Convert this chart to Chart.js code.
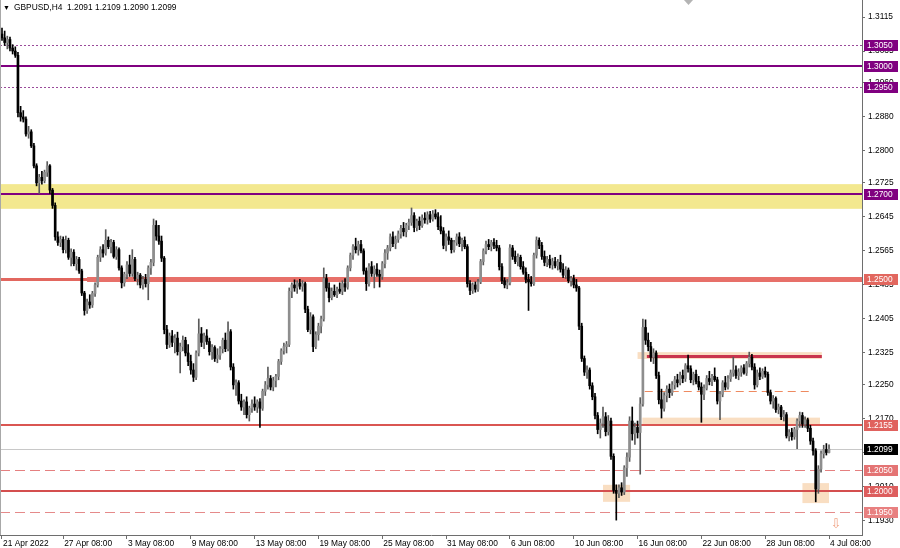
<!DOCTYPE html>
<html><head><meta charset="utf-8">
<script src="https://cdn.jsdelivr.net/npm/chart.js@4.4.1/dist/chart.umd.min.js"></script>
<style>html,body{margin:0;padding:0;background:#fff;}canvas{display:block;}</style>
</head><body>
<canvas id="c" width="900" height="548"></canvas>
<script>
const symbolTitle = 'GBPUSD,H4';
const open = [
1.3075,1.3066,1.3055,1.3062,1.3042,1.3035,1.3025,1.2890,1.2880,1.2875,
1.2840,1.2845,1.2812,1.2765,1.2725,1.2738,1.2730,1.2750,1.2765,1.2708,
1.2672,1.2598,1.2585,1.2592,1.2568,1.2590,1.2550,1.2562,1.2535,1.2545,
1.2518,1.2466,1.2425,1.2445,1.2438,1.2465,1.2485,1.2550,1.2568,1.2560,
1.2590,1.2575,1.2585,1.2552,1.2568,1.2525,1.2490,1.2510,1.2532,1.2512,
1.2545,1.2500,1.2508,1.2485,1.2498,1.2488,1.2525,1.2538,1.2625,1.2600,
1.2588,1.2548,1.2380,1.2345,1.2365,1.2350,1.2360,1.2328,1.2340,1.2355,
1.2325,1.2305,1.2285,1.2268,1.2325,1.2370,1.2350,1.2365,1.2352,1.2328,
1.2338,1.2312,1.2320,1.2335,1.2355,1.2335,1.2375,1.2292,1.2250,1.2255,
1.2212,1.2198,1.2210,1.2180,1.2195,1.2205,1.2198,1.2210,1.2195,1.2235,
1.2250,1.2265,1.2245,1.2260,1.2270,1.2305,1.2330,1.2340,1.2345,1.2470,
1.2485,1.2478,1.2490,1.2482,1.2488,1.2428,1.2380,1.2410,1.2340,1.2368,
1.2388,1.2405,1.2500,1.2478,1.2455,1.2470,1.2462,1.2475,1.2470,1.2488,
1.2480,1.2525,1.2555,1.2575,1.2568,1.2580,1.2565,1.2518,1.2488,1.2528,
1.2512,1.2522,1.2510,1.2505,1.2535,1.2560,1.2572,1.2598,1.2582,1.2592,
1.2605,1.2618,1.2610,1.2625,1.2632,1.2648,1.2620,1.2635,1.2625,1.2642,
1.2638,1.2650,1.2640,1.2652,1.2645,1.2622,1.2612,1.2578,1.2598,1.2590,
1.2568,1.2585,1.2598,1.2582,1.2590,1.2575,1.2488,1.2472,1.2485,1.2475,
1.2492,1.2540,1.2565,1.2580,1.2575,1.2585,1.2578,1.2572,1.2528,1.2495,
1.2485,1.2490,1.2572,1.2552,1.2540,1.2550,1.2528,1.2515,1.2498,1.2492,
1.2488,1.2555,1.2590,1.2578,1.2552,1.2538,1.2545,1.2532,1.2540,1.2530,
1.2538,1.2522,1.2508,1.2520,1.2495,1.2500,1.2485,1.2478,1.2388,1.2312,
1.2280,1.2285,1.2248,1.2222,1.2178,1.2145,1.2160,1.2175,1.2140,1.2165,
1.2082,1.2002,1.1995,1.2008,1.1998,1.2055,1.2080,1.2165,1.2135,1.2150,
1.2138,1.2205,1.2385,1.2355,1.2340,1.2315,1.2325,1.2272,1.2215,1.2195,
1.2225,1.2240,1.2232,1.2250,1.2262,1.2255,1.2272,1.2265,1.2295,1.2288,
1.2262,1.2275,1.2258,1.2245,1.2228,1.2242,1.2265,1.2258,1.2270,1.2262,
1.2212,1.2228,1.2255,1.2245,1.2265,1.2278,1.2285,1.2272,1.2280,1.2290,
1.2278,1.2300,1.2315,1.2292,1.2250,1.2278,1.2270,1.2282,1.2275,1.2232,
1.2212,1.2218,1.2192,1.2198,1.2175,1.2180,1.2130,1.2138,1.2128,1.2145,
1.2165,1.2178,1.2158,1.2168,1.2148,1.2118,1.2095,1.2005,1.2052,1.2088,
1.2098,1.2091];
const high = [
1.3089,1.3082,1.3070,1.3068,1.3050,1.3045,1.3032,1.2905,1.2895,1.2880,
1.2858,1.2850,1.2818,1.2770,1.2745,1.2752,1.2755,1.2775,1.2768,1.2712,
1.2678,1.2610,1.2600,1.2598,1.2600,1.2595,1.2570,1.2568,1.2552,1.2550,
1.2522,1.2470,1.2452,1.2462,1.2470,1.2490,1.2555,1.2575,1.2580,1.2615,
1.2598,1.2592,1.2590,1.2575,1.2572,1.2530,1.2515,1.2540,1.2555,1.2568,
1.2550,1.2515,1.2512,1.2505,1.2510,1.2530,1.2545,1.2640,1.2636,1.2625,
1.2600,1.2552,1.2390,1.2372,1.2378,1.2368,1.2374,1.2348,1.2365,1.2362,
1.2345,1.2320,1.2300,1.2330,1.2405,1.2385,1.2372,1.2380,1.2360,1.2345,
1.2342,1.2335,1.2340,1.2360,1.2372,1.2398,1.2380,1.2300,1.2262,1.2260,
1.2228,1.2215,1.2222,1.2200,1.2215,1.2222,1.2215,1.2218,1.2240,1.2258,
1.2292,1.2272,1.2268,1.2275,1.2310,1.2335,1.2348,1.2352,1.2478,1.2490,
1.2497,1.2495,1.2498,1.2495,1.2492,1.2435,1.2420,1.2415,1.2375,1.2395,
1.2412,1.2525,1.2510,1.2490,1.2478,1.2485,1.2480,1.2490,1.2495,1.2500,
1.2530,1.2560,1.2580,1.2595,1.2588,1.2590,1.2570,1.2525,1.2535,1.2540,
1.2530,1.2535,1.2520,1.2540,1.2568,1.2578,1.2605,1.2610,1.2600,1.2612,
1.2625,1.2632,1.2630,1.2640,1.2666,1.2655,1.2640,1.2645,1.2650,1.2655,
1.2657,1.2658,1.2660,1.2662,1.2655,1.2648,1.2620,1.2605,1.2612,1.2595,
1.2590,1.2605,1.2608,1.2595,1.2598,1.2580,1.2495,1.2490,1.2492,1.2498,
1.2545,1.2570,1.2588,1.2592,1.2590,1.2594,1.2590,1.2578,1.2535,1.2502,
1.2498,1.2580,1.2578,1.2565,1.2558,1.2555,1.2540,1.2525,1.2510,1.2505,
1.2560,1.2598,1.2596,1.2585,1.2565,1.2552,1.2555,1.2548,1.2550,1.2545,
1.2555,1.2535,1.2528,1.2525,1.2505,1.2508,1.2498,1.2482,1.2395,1.2318,
1.2295,1.2290,1.2255,1.2230,1.2185,1.2170,1.2198,1.2185,1.2178,1.2172,
1.2088,1.2015,1.2015,1.2020,1.2060,1.2090,1.2175,1.2198,1.2160,1.2165,
1.2220,1.2405,1.2403,1.2372,1.2350,1.2335,1.2330,1.2280,1.2240,1.2232,
1.2248,1.2252,1.2258,1.2270,1.2275,1.2280,1.2285,1.2300,1.2320,1.2295,
1.2280,1.2285,1.2270,1.2255,1.2250,1.2272,1.2282,1.2275,1.2290,1.2268,
1.2235,1.2260,1.2270,1.2272,1.2285,1.2315,1.2295,1.2288,1.2295,1.2298,
1.2305,1.2327,1.2322,1.2300,1.2285,1.2290,1.2288,1.2292,1.2280,1.2238,
1.2225,1.2222,1.2205,1.2202,1.2190,1.2185,1.2145,1.2148,1.2150,1.2170,
1.2186,1.2185,1.2175,1.2172,1.2155,1.2125,1.2100,1.2060,1.2095,1.2108,
1.2112,1.2109];
const low = [
1.3060,1.3048,1.3040,1.3035,1.3028,1.3020,1.2880,1.2870,1.2868,1.2835,
1.2830,1.2808,1.2760,1.2718,1.2700,1.2722,1.2725,1.2740,1.2700,1.2665,
1.2590,1.2578,1.2575,1.2560,1.2560,1.2545,1.2530,1.2530,1.2520,1.2512,
1.2460,1.2414,1.2418,1.2430,1.2432,1.2458,1.2480,1.2540,1.2550,1.2555,
1.2570,1.2560,1.2548,1.2545,1.2520,1.2478,1.2482,1.2500,1.2505,1.2505,
1.2495,1.2485,1.2478,1.2475,1.2480,1.2450,1.2510,1.2530,1.2590,1.2580,
1.2540,1.2370,1.2335,1.2338,1.2340,1.2325,1.2320,1.2278,1.2330,1.2318,
1.2295,1.2275,1.2258,1.2262,1.2318,1.2340,1.2335,1.2345,1.2320,1.2310,
1.2305,1.2302,1.2310,1.2325,1.2328,1.2330,1.2285,1.2240,1.2225,1.2205,
1.2190,1.2180,1.2172,1.2165,1.2185,1.2190,1.2185,1.2150,1.2190,1.2225,
1.2240,1.2238,1.2236,1.2245,1.2262,1.2298,1.2322,1.2325,1.2340,1.2455,
1.2470,1.2465,1.2475,1.2470,1.2420,1.2375,1.2370,1.2328,1.2335,1.2355,
1.2372,1.2400,1.2470,1.2445,1.2450,1.2458,1.2455,1.2465,1.2462,1.2470,
1.2475,1.2518,1.2545,1.2560,1.2555,1.2560,1.2510,1.2472,1.2482,1.2505,
1.2478,1.2505,1.2480,1.2498,1.2525,1.2545,1.2565,1.2575,1.2570,1.2585,
1.2595,1.2600,1.2598,1.2615,1.2625,1.2610,1.2612,1.2615,1.2620,1.2630,
1.2628,1.2632,1.2635,1.2640,1.2615,1.2605,1.2570,1.2565,1.2580,1.2560,
1.2562,1.2578,1.2575,1.2565,1.2570,1.2480,1.2462,1.2465,1.2468,1.2470,
1.2488,1.2532,1.2558,1.2568,1.2565,1.2570,1.2565,1.2520,1.2488,1.2478,
1.2476,1.2485,1.2545,1.2535,1.2530,1.2522,1.2510,1.2490,1.2425,1.2482,
1.2484,1.2548,1.2570,1.2545,1.2530,1.2528,1.2525,1.2522,1.2525,1.2520,
1.2515,1.2502,1.2500,1.2490,1.2482,1.2478,1.2470,1.2380,1.2305,1.2272,
1.2265,1.2240,1.2215,1.2170,1.2135,1.2125,1.2150,1.2130,1.2132,1.2075,
1.1995,1.1932,1.1985,1.1990,1.1992,1.2035,1.2070,1.2120,1.2110,1.2125,
1.2040,1.2200,1.2345,1.2330,1.2305,1.2300,1.2265,1.2205,1.2172,1.2188,
1.2210,1.2220,1.2225,1.2240,1.2245,1.2250,1.2255,1.2258,1.2280,1.2255,
1.2250,1.2252,1.2238,1.2162,1.2215,1.2238,1.2250,1.2248,1.2258,1.2205,
1.2168,1.2222,1.2238,1.2240,1.2258,1.2270,1.2265,1.2262,1.2270,1.2275,
1.2272,1.2292,1.2285,1.2240,1.2245,1.2262,1.2265,1.2268,1.2225,1.2205,
1.2195,1.2185,1.2182,1.2168,1.2165,1.2125,1.2118,1.2120,1.2122,1.2100,
1.2150,1.2150,1.2150,1.2140,1.2110,1.2085,1.1975,1.1995,1.2045,1.2078,
1.2085,1.2090];
const close = [
1.3066,1.3055,1.3062,1.3042,1.3035,1.3025,1.2890,1.2880,1.2875,1.2840,
1.2845,1.2812,1.2765,1.2725,1.2738,1.2730,1.2750,1.2765,1.2708,1.2672,
1.2598,1.2585,1.2592,1.2568,1.2590,1.2550,1.2562,1.2535,1.2545,1.2518,
1.2466,1.2425,1.2445,1.2438,1.2465,1.2485,1.2550,1.2568,1.2560,1.2590,
1.2575,1.2585,1.2552,1.2568,1.2525,1.2490,1.2510,1.2532,1.2512,1.2545,
1.2500,1.2508,1.2485,1.2498,1.2488,1.2525,1.2538,1.2625,1.2600,1.2588,
1.2548,1.2380,1.2345,1.2365,1.2350,1.2360,1.2328,1.2340,1.2355,1.2325,
1.2305,1.2285,1.2268,1.2325,1.2370,1.2350,1.2365,1.2352,1.2328,1.2338,
1.2312,1.2320,1.2335,1.2355,1.2335,1.2375,1.2292,1.2250,1.2255,1.2212,
1.2198,1.2210,1.2180,1.2195,1.2205,1.2198,1.2210,1.2195,1.2235,1.2250,
1.2265,1.2245,1.2260,1.2270,1.2305,1.2330,1.2340,1.2345,1.2470,1.2485,
1.2478,1.2490,1.2482,1.2488,1.2428,1.2380,1.2410,1.2340,1.2368,1.2388,
1.2405,1.2500,1.2478,1.2455,1.2470,1.2462,1.2475,1.2470,1.2488,1.2480,
1.2525,1.2555,1.2575,1.2568,1.2580,1.2565,1.2518,1.2488,1.2528,1.2512,
1.2522,1.2510,1.2505,1.2535,1.2560,1.2572,1.2598,1.2582,1.2592,1.2605,
1.2618,1.2610,1.2625,1.2632,1.2648,1.2620,1.2635,1.2625,1.2642,1.2638,
1.2650,1.2640,1.2652,1.2645,1.2622,1.2612,1.2578,1.2598,1.2590,1.2568,
1.2585,1.2598,1.2582,1.2590,1.2575,1.2488,1.2472,1.2485,1.2475,1.2492,
1.2540,1.2565,1.2580,1.2575,1.2585,1.2578,1.2572,1.2528,1.2495,1.2485,
1.2490,1.2572,1.2552,1.2540,1.2550,1.2528,1.2515,1.2498,1.2492,1.2488,
1.2555,1.2590,1.2578,1.2552,1.2538,1.2545,1.2532,1.2540,1.2530,1.2538,
1.2522,1.2508,1.2520,1.2495,1.2500,1.2485,1.2478,1.2388,1.2312,1.2280,
1.2285,1.2248,1.2222,1.2178,1.2145,1.2160,1.2175,1.2140,1.2165,1.2082,
1.2002,1.1995,1.2008,1.1998,1.2055,1.2080,1.2165,1.2135,1.2150,1.2138,
1.2205,1.2385,1.2355,1.2340,1.2315,1.2325,1.2272,1.2215,1.2195,1.2225,
1.2240,1.2232,1.2250,1.2262,1.2255,1.2272,1.2265,1.2295,1.2288,1.2262,
1.2275,1.2258,1.2245,1.2228,1.2242,1.2265,1.2258,1.2270,1.2262,1.2212,
1.2228,1.2255,1.2245,1.2265,1.2278,1.2285,1.2272,1.2280,1.2290,1.2278,
1.2300,1.2315,1.2292,1.2250,1.2278,1.2270,1.2282,1.2275,1.2232,1.2212,
1.2218,1.2192,1.2198,1.2175,1.2180,1.2130,1.2138,1.2128,1.2145,1.2165,
1.2178,1.2158,1.2168,1.2148,1.2118,1.2095,1.2005,1.2052,1.2088,1.2098,
1.2091,1.2099];
const xTickIndex = [0,23,47,71,95,119,143,167,191,215,239,263,287,311];
const xTickLabels = ['21 Apr 2022','27 Apr 08:00','3 May 08:00','9 May 08:00','13 May 08:00','19 May 08:00','25 May 08:00','31 May 08:00','6 Jun 08:00','10 Jun 08:00','16 Jun 08:00','22 Jun 08:00','28 Jun 08:00','4 Jul 08:00'];
const yTickValues = [1.3115,1.3035,1.2960,1.2880,1.2800,1.2725,1.2645,1.2565,1.2485,1.2405,1.2325,1.2250,1.2170,1.2090,1.2010,1.1930];
const levelPrices = [1.3050,1.3000,1.2950,1.2700,1.2500,1.2155,1.2050,1.2000,1.1950];
const lastPrice = 1.2099;
const yellowZone = [1.2664, 1.2722];
const rangeTopLine = [242.5, 308.3, 1.2319];
const rangeMidLine = [241.7, 304.9, 1.2236];
const peachZones = [[239,308.3,1.2311,1.2327],[240.8,307.6,1.2156,1.2173],[226,236.2,1.1975,1.2015],[301,311,1.1972,1.2019]];
const level2500ZoneStart = 32;

// styles (kept separate from data)
const levelStyles = [
  {c:'#9a4a9a', w:1, d:[2,2], box:'#800080'},
  {c:'#800080', w:2, d:[], box:'#800080'},
  {c:'#9a4a9a', w:1, d:[2,2], box:'#800080'},
  {c:'#800080', w:2, d:[], box:'#800080'},
  {c:'#e2675f', w:3, d:[], box:'#e2675f'},
  {c:'#da5652', w:2, d:[], box:'#e0625e'},
  {c:'#e58080', w:1, d:[10,5], box:'#e47474'},
  {c:'#d44f4f', w:2, d:[], box:'#dd5e5e'},
  {c:'#e58a8a', w:1, d:[10,5], box:'#e88080'}
];
const FONT = '"Liberation Sans", Arial, sans-serif';
const FS = 8.4;

const bodies = close.map((c, i) => ({x: i, y: [open[i], c]}));
const wicks = close.map((c, i) => ({x: i, y: [low[i], high[i]]}));
const isBull = i => close[i] >= open[i];

function hLine(ctx, y, x0, x1, color, w, dash) {
  ctx.save();
  ctx.strokeStyle = color; ctx.lineWidth = w; ctx.setLineDash(dash || []);
  const yy = (w % 2 === 1) ? Math.round(y) + 0.5 : Math.round(y);
  ctx.beginPath(); ctx.moveTo(x0, yy); ctx.lineTo(x1, yy); ctx.stroke();
  ctx.restore();
}

const annotations = {
  id: 'annotations',
  beforeDatasetsDraw(chart) {
    const {ctx, chartArea: a, scales: {x, y}} = chart;
    ctx.save();
    ctx.beginPath(); ctx.rect(a.left, a.top, a.right - a.left, a.bottom - a.top); ctx.clip();
    const yz0 = y.getPixelForValue(yellowZone[1]), yz1 = y.getPixelForValue(yellowZone[0]);
    ctx.fillStyle = '#f3e88f';
    ctx.fillRect(a.left, yz0, a.right - a.left, yz1 - yz0);
    ctx.fillStyle = '#f9dec2';
    peachZones.forEach(z => {
      const px0 = x.getPixelForValue(z[0]), px1 = x.getPixelForValue(z[1]);
      const py0 = y.getPixelForValue(z[3]), py1 = y.getPixelForValue(z[2]);
      ctx.fillRect(px0, py0, px1 - px0, py1 - py0);
    });
    hLine(ctx, y.getPixelForValue(lastPrice), a.left, a.right, '#c8c8c8', 1, []);
    levelPrices.forEach((p, k) => {
      const s = levelStyles[k];
      hLine(ctx, y.getPixelForValue(p), a.left, a.right, s.c, s.w, s.d);
    });
    const y25 = Math.round(y.getPixelForValue(levelPrices[4]));
    ctx.fillStyle = '#e77069';
    const zx = x.getPixelForValue(level2500ZoneStart);
    ctx.fillRect(zx, y25 - 2, a.right - zx, 5);
    hLine(ctx, y.getPixelForValue(rangeTopLine[2]), x.getPixelForValue(rangeTopLine[0]), x.getPixelForValue(rangeTopLine[1]), '#c9344c', 3, []);
    hLine(ctx, y.getPixelForValue(rangeMidLine[2]), x.getPixelForValue(rangeMidLine[0]), x.getPixelForValue(rangeMidLine[1]), '#ee8a60', 1, [8,5]);
    ctx.restore();
  },
  afterDraw(chart) {
    const {ctx, chartArea: a, scales: {x, y}} = chart;
    ctx.save();
    ctx.fillStyle = '#a8a8a8';
    ctx.fillRect(0, 0, 1, a.bottom);
    ctx.font = FS + 'px ' + FONT;
    ctx.textBaseline = 'middle'; ctx.textAlign = 'left';
    const box = (p, bg) => {
      const py = Math.round(y.getPixelForValue(p));
      ctx.fillStyle = bg;
      ctx.fillRect(a.right + 2, py - 5, 34, 11);
      ctx.fillStyle = '#ffffff';
      ctx.fillText(p.toFixed(4), a.right + 5, py + 0.5);
    };
    levelPrices.forEach((p, k) => box(p, levelStyles[k].box));
    box(lastPrice, '#000000');
    ctx.fillStyle = '#000';
    ctx.font = '7px ' + FONT;
    ctx.fillText('\u25BC', 3, 8);
    ctx.font = FS + 'px ' + FONT;
    ctx.fillText(symbolTitle + '  ' + [open[311], high[311], low[311], close[311]].map(v => v.toFixed(4)).join(' '), 14, 8);
    ctx.fillStyle = '#b4b4b4';
    ctx.beginPath(); ctx.moveTo(684, 0); ctx.lineTo(693, 0); ctx.lineTo(688.5, 5); ctx.closePath(); ctx.fill();
    ctx.fillStyle = '#f0a486';
    ctx.font = '13px "DejaVu Sans"';
    ctx.textAlign = 'center';
    ctx.fillText('\u21E9', 836, 525);
    ctx.restore();
  }
};

const zeroPad = s => { s.paddingLeft = 0; s.paddingRight = 0; s.paddingTop = 0; s.paddingBottom = 0; };

new Chart(document.getElementById('c'), {
  type: 'bar',
  data: {
    datasets: [
      {
        label: 'body', data: bodies, grouped: false, barThickness: 2, minBarLength: 1,
        backgroundColor: ctx => isBull(ctx.dataIndex) ? '#8e8e8e' : '#000000', borderWidth: 0
      },
      {
        label: 'wick', data: wicks, grouped: false, barThickness: 1,
        backgroundColor: ctx => isBull(ctx.dataIndex) ? '#5a5a5a' : '#000000', borderWidth: 0
      }
    ]
  },
  options: {
    responsive: false, animation: false, events: [],
    layout: {padding: 0},
    plugins: {legend: {display: false}, tooltip: {enabled: false}, title: {display: false}},
    scales: {
      x: {
        type: 'linear', offset: false, bounds: 'data', min: -0.752, max: 323.4,
        grid: {display: true, drawOnChartArea: false, drawTicks: true, tickLength: 4, offset: false, color: '#6e6e6e'},
        border: {display: true, color: '#6e6e6e', width: 1},
        ticks: {
          autoSkip: false, maxRotation: 0, minRotation: 0, align: 'start', padding: 0, labelOffset: 1,
          color: '#000', font: {family: FONT, size: FS},
          callback: v => { const k = xTickIndex.indexOf(v); return k >= 0 ? xTickLabels[k] : ''; }
        },
        afterBuildTicks: s => { s.ticks = xTickIndex.map(v => ({value: v})); },
        afterFit: s => { s.height = 13; zeroPad(s); }
      },
      y: {
        type: 'linear', position: 'right', bounds: 'data', min: 1.1897, max: 1.3155,
        grid: {display: true, drawOnChartArea: false, drawTicks: true, tickLength: 3, color: '#6e6e6e'},
        border: {display: true, color: '#6e6e6e', width: 1},
        ticks: {
          autoSkip: false, padding: 3, color: '#000', font: {family: FONT, size: FS},
          callback: v => Number(v).toFixed(4)
        },
        afterBuildTicks: s => { s.ticks = yTickValues.map(v => ({value: v})); },
        afterFit: s => { s.width = 38; zeroPad(s); }
      }
    }
  },
  plugins: [annotations]
});
</script>
</body></html>
